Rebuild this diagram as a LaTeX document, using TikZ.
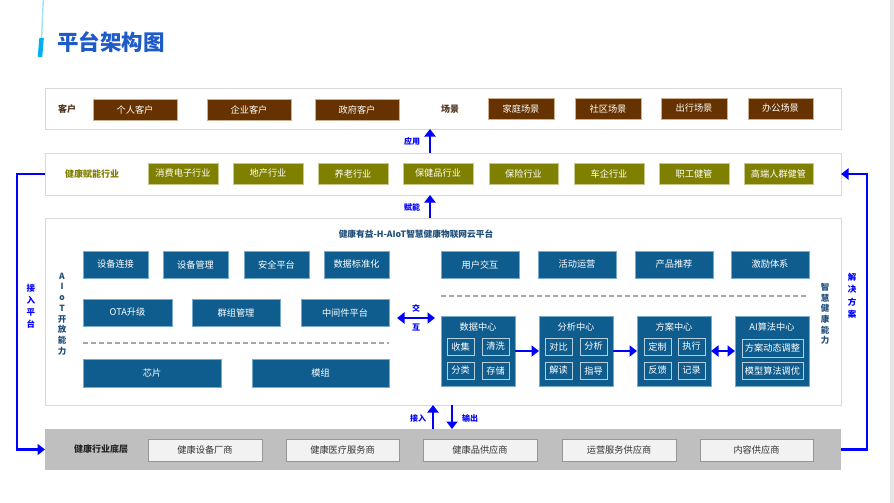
\documentclass[tikz,border=0pt]{standalone}
\usepackage{fontspec}
\setmainfont{Noto Sans CJK SC}
\usetikzlibrary{arrows.meta}
\definecolor{brn}{RGB}{102,51,0}
\definecolor{brnline}{RGB}{205,175,145}
\definecolor{brntxt}{RGB}{80,55,30}
\definecolor{olv}{RGB}{128,128,0}
\definecolor{olvline}{RGB}{200,200,140}
\definecolor{bl}{RGB}{15,93,142}
\definecolor{blline}{RGB}{120,170,205}
\definecolor{bltxt}{RGB}{31,78,121}
\definecolor{arrblue}{RGB}{0,0,255}
\definecolor{outline}{RGB}{217,217,217}
\definecolor{botgray}{RGB}{191,191,191}
\definecolor{boxgray}{RGB}{242,242,242}
\definecolor{boxgrayline}{RGB}{150,150,150}
\definecolor{titleblue}{RGB}{30,90,200}
\definecolor{accent}{RGB}{0,176,240}
\definecolor{accentlight}{RGB}{160,222,250}
\newcommand\bx[7]{\node[#6,minimum width={(#4)-(#2)},minimum height={(#5)-(#3)}] (#1) at ({((#2)+(#4))/2},{((#3)+(#5))/2}) {#7};}
\tikzset{
  every node/.style={inner sep=0pt,outer sep=0pt},
  fnt/.style={font=\fontsize{9.2}{11}\selectfont},
  outerbox/.style={draw=outline,line width=0.9pt,fill=white},
  brownbox/.style={fnt,fill=brn,draw=brnline,line width=0.6pt,text=white},
  olivebox/.style={fnt,fill=olv,draw=olvline,line width=0.6pt,text=white},
  bluebox/.style={fnt,fill=bl,draw=blline,line width=0.5pt,text=white},
  subbox/.style={fnt,fill=bl,draw=white!70!bl,line width=0.8pt,text=white},
  graybox/.style={fnt,fill=boxgray,draw=boxgrayline,line width=0.6pt,text=black!80},
  bottombox/.style={fill=botgray,draw=none},
  arr/.style={draw=arrblue,line width=2.6pt,-{Triangle[length=7.5pt,width=11pt]}},
  darr/.style={draw=arrblue,line width=2.6pt,{Triangle[length=7.5pt,width=11pt]}-{Triangle[length=7.5pt,width=11pt]}},
  linkarr/.style={draw=arrblue,line width=2.2pt,-{Triangle[length=7.5pt,width=11pt]}},
  arrlbl/.style={font=\fontsize{8}{9}\selectfont\bfseries,text=arrblue},
  rowlbl/.style={font=\fontsize{9}{10}\selectfont\bfseries},
  dashline/.style={draw=black!35,line width=1.2pt,dash pattern=on 5pt off 3pt},
  vlabel/.style={align=center,font=\fontsize{8.5}{10.7}\selectfont\bfseries},
}
\begin{document}
\begin{tikzpicture}[x=1pt,y=-1pt]
\useasboundingbox (0,0) rectangle (894,503);
\fill[black!10] (890,0) rectangle (894,503);
% title accent
\draw[accentlight,line width=1.4pt] (43.3,0) -- (41.6,38);
\draw[accent,line width=4.5pt] (41.6,38) -- (40,57);
\node[anchor=west,text=titleblue,font=\fontsize{21.5}{24}\selectfont\bfseries] (title) at (57,42) {平台架构图};

% row 1
\bx{row1}{45}{88}{841}{129}{outerbox}{}
\node[rowlbl,text=brntxt] (kh) at (67,109) {客户};
\bx{c1}{93}{99}{177}{120}{brownbox}{个人客户}
\bx{c2}{207}{99}{291}{120}{brownbox}{企业客户}
\bx{c3}{315}{99}{399}{120}{brownbox}{政府客户}
\node[rowlbl,text=brntxt] (cj) at (450,109) {场景};
\bx{s1}{488}{98}{554}{119}{brownbox}{家庭场景}
\bx{s2}{575}{98}{641}{119}{brownbox}{社区场景}
\bx{s3}{661}{98}{727}{119}{brownbox}{出行场景}
\bx{s4}{748}{98}{813}{119}{brownbox}{办公场景}

% row 2
\bx{row2}{45}{153}{841}{195}{outerbox}{}
\node[rowlbl,text=olv] (jk) at (92,174) {健康赋能行业};
\bx{i1}{148}{163}{218}{184}{olivebox}{消费电子行业}
\bx{i2}{233}{163}{303}{184}{olivebox}{地产行业}
\bx{i3}{318}{163}{388}{184}{olivebox}{养老行业}
\bx{i4}{403}{163}{473}{184}{olivebox}{保健品行业}
\bx{i5}{489}{163}{558}{184}{olivebox}{保险行业}
\bx{i6}{574}{163}{644}{184}{olivebox}{车企行业}
\bx{i7}{659}{163}{729}{184}{olivebox}{职工健管}
\bx{i8}{744}{163}{813}{184}{olivebox}{高端人群健管}

% platform
\bx{plat}{45}{218}{841}{405}{outerbox}{}
\node[font=\fontsize{8.7}{10}\selectfont\bfseries,text=bltxt] (ptitle) at (416,234) {健康有益-H-AIoT智慧健康物联网云平台};
\node[vlabel,text=bltxt] (aiot) at (62,314) {A\\I\\o\\T\\开\\放\\能\\力};
\node[vlabel,text=bltxt] (zhjk) at (825,314) {智\\慧\\健\\康\\能\\力};
% left part
\bx{a1}{83}{251}{148}{278}{bluebox}{设备连接}
\bx{a2}{163}{251}{228}{278}{bluebox}{设备管理}
\bx{a3}{244}{251}{309}{278}{bluebox}{安全平台}
\bx{a4}{324}{251}{389}{278}{bluebox}{数据标准化}
\bx{b1}{83}{299}{172}{326}{bluebox}{OTA升级}
\bx{b2}{192}{299}{280}{326}{bluebox}{群组管理}
\bx{b3}{301}{299}{389}{326}{bluebox}{中间件平台}
\coordinate (dl1) at (83,343);
\coordinate (dl2) at (389,343);
\draw[dashline] (dl1) -- (dl2);
\bx{h1}{83}{359}{221}{387}{bluebox}{芯片}
\bx{h2}{252}{359}{389}{387}{bluebox}{模组}
% interaction arrow
\coordinate (jl) at (397,318);
\coordinate (jr) at (435,318);
\draw[darr] (jl) -- (jr);
\node[arrlbl] (jh1) at (416,308) {交};
\node[arrlbl] (jh2) at (416,328) {互};
% right part
\bx{u1}{441}{251}{519}{278}{bluebox}{用户交互}
\bx{u2}{538}{251}{616}{278}{bluebox}{活动运营}
\bx{u3}{635}{251}{713}{278}{bluebox}{产品推荐}
\bx{u4}{731}{251}{809}{278}{bluebox}{激励体系}
\coordinate (dr1) at (441,296);
\coordinate (dr2) at (809,296);
\draw[dashline] (dr1) -- (dr2);
\bx{dc}{441}{316}{515}{386}{bluebox}{}
\bx{fx}{539}{316}{613}{386}{bluebox}{}
\bx{fa}{637}{316}{711}{386}{bluebox}{}
\bx{ai}{735}{316}{809}{386}{bluebox}{}
\node[fnt,text=white] (dct) at (478,327) {数据中心};
\node[fnt,text=white] (fxt) at (576,327) {分析中心};
\node[fnt,text=white] (fat) at (674,327) {方案中心};
\node[fnt,text=white] (ait) at (772,327) {AI算法中心};
\bx{d1}{447}{338}{474}{355}{subbox}{收集}
\bx{d2}{482}{338}{509}{355}{subbox}{清洗}
\bx{d3}{447}{362}{474}{379}{subbox}{分类}
\bx{d4}{482}{362}{509}{379}{subbox}{存储}
\bx{f1}{545}{338}{572}{355}{subbox}{对比}
\bx{f2}{580}{338}{607}{355}{subbox}{分析}
\bx{f3}{545}{362}{572}{379}{subbox}{解读}
\bx{f4}{580}{362}{607}{379}{subbox}{指导}
\bx{g1}{644}{338}{671}{355}{subbox}{定制}
\bx{g2}{678}{338}{705}{355}{subbox}{执行}
\bx{g3}{644}{362}{671}{379}{subbox}{反馈}
\bx{g4}{678}{362}{705}{379}{subbox}{记录}
\bx{m1}{742}{339}{803}{357}{subbox}{方案动态调整}
\bx{m2}{742}{362}{803}{379}{subbox}{模型算法调优}
\draw[arr] (dc.east) -- (fx.west);
\draw[arr] (fx.east) -- (fa.west);
\draw[darr] (fa.east) -- (ai.west);

% bottom
\bx{bot}{45}{429}{841}{470}{bottombox}{}
\node[rowlbl,text=black!85] (dc0) at (101,449) {健康行业底层};
\bx{p1}{148}{439}{262}{461}{graybox}{健康设备厂商}
\bx{p2}{286}{439}{399}{461}{graybox}{健康医疗服务商}
\bx{p3}{423}{439}{537}{461}{graybox}{健康品供应商}
\bx{p4}{562}{439}{676}{461}{graybox}{运营服务供应商}
\bx{p5}{700}{439}{813}{461}{graybox}{内容供应商}

% vertical arrows between layers
\coordinate (ax) at (430,0);
\draw[arr] (row2.north -| ax) -- (row1.south -| ax);
\node[arrlbl] (yy) at (412,141) {应用};
\draw[arr] (plat.north -| ax) -- (row2.south -| ax);
\node[arrlbl] (fn) at (412,207) {赋能};
\coordinate (bx1) at (433,0);
\coordinate (bx2) at (452,0);
\draw[arr] (bot.north -| bx1) -- (plat.south -| bx1);
\draw[arr] (plat.south -| bx2) -- (bot.north -| bx2);
\node[arrlbl,anchor=east] (jr0) at (426,418) {接入};
\node[arrlbl,anchor=west] (sc0) at (462,418) {输出};

% side loops
\draw[linkarr] (row2.west) -- ++(-28,0) |- (bot.west);
\node[vlabel,text=arrblue,font=\fontsize{8.5}{12}\selectfont\bfseries] (jrpt) at (31,306) {接\\入\\平\\台};
\draw[linkarr] (bot.east) -- ++(26,0) |- (row2.east);
\node[vlabel,text=arrblue,font=\fontsize{8.5}{12.5}\selectfont\bfseries] (jjfa) at (852,296) {解\\决\\方\\案};
\end{tikzpicture}
\end{document}
